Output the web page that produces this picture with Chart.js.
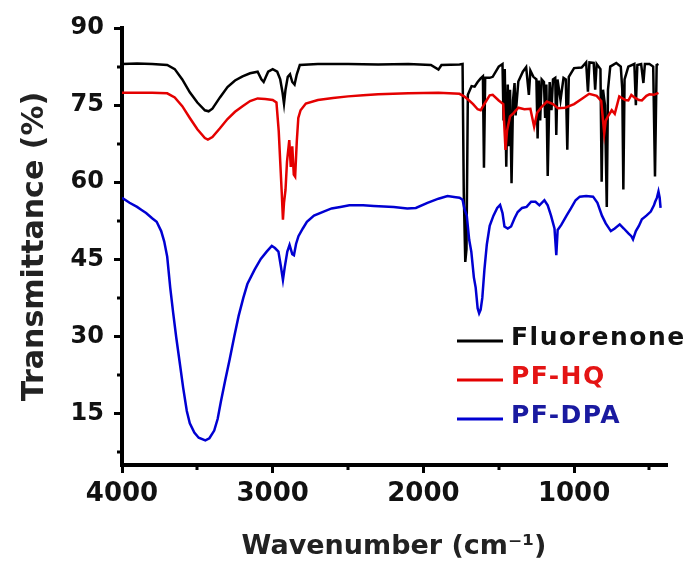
<!DOCTYPE html>
<html>
<head>
<meta charset="utf-8">
<script src="https://cdn.jsdelivr.net/npm/chart.js@4"></script>
<style>
  html, body { margin: 0; padding: 0; background: #fff; }
  canvas { display: block; }
</style>
</head>
<body>
<canvas id="ftir" width="685" height="564"></canvas>
<script>
// series labels + colours
const seriesNames = ['Fluorenone', 'PF-HQ', 'PF-DPA'];
const lineColors = ['#000000', '#e40000', '#0000d2'];
const legendTextColors = ['#111111', '#e41414', '#1a1aa0'];

// Fluorenone (black)
const fluorenoneWn = [4000, 3900, 3800, 3700, 3650, 3600, 3550, 3500, 3450, 3425, 3400, 3350, 3300, 3250, 3200, 3150, 3100, 3075, 3060, 3045, 3030, 3000, 2970, 2950, 2935, 2925, 2915, 2900, 2885, 2870, 2855, 2840, 2820, 2700, 2500, 2300, 2100, 1950, 1900, 1880, 1760, 1740, 1732, 1722, 1714, 1705, 1680, 1660, 1640, 1620, 1605, 1598, 1590, 1560, 1540, 1500, 1475, 1468, 1460, 1450, 1440, 1432, 1425, 1415, 1405, 1395, 1388, 1370, 1340, 1318, 1300, 1290, 1270, 1250, 1242, 1234, 1225, 1215, 1200, 1192, 1184, 1175, 1162, 1150, 1140, 1125, 1118, 1110, 1090, 1070, 1055, 1045, 1035, 1000, 950, 920, 908, 898, 870, 860, 850, 825, 817, 808, 795, 783, 775, 760, 720, 690, 680, 673, 665, 640, 600, 590, 580, 555, 540, 530, 500, 475, 463, 452, 440];
const fluorenoneT = [83.0, 83.1, 83.0, 82.8, 82.0, 80.0, 77.5, 75.5, 74.0, 73.8, 74.3, 76.5, 78.5, 79.8, 80.6, 81.2, 81.5, 80.0, 79.5, 80.5, 81.5, 82.0, 81.5, 80.0, 77.5, 75.3, 78.0, 80.5, 81.0, 79.5, 79.0, 81.0, 82.8, 83.0, 83.0, 82.9, 83.0, 82.8, 81.9, 82.8, 82.9, 83.0, 58.0, 44.5, 47.0, 77.0, 78.7, 78.6, 79.5, 80.2, 80.6, 62.8, 80.3, 80.3, 80.5, 82.5, 83.0, 72.0, 82.0, 63.0, 79.0, 67.0, 78.0, 59.8, 76.0, 79.3, 73.0, 79.6, 81.5, 82.4, 77.0, 81.7, 80.5, 80.0, 68.5, 79.8, 72.0, 80.0, 79.5, 72.5, 79.0, 61.2, 79.5, 74.0, 80.0, 80.3, 69.2, 80.0, 76.0, 80.3, 80.0, 66.3, 80.5, 82.2, 82.3, 83.3, 77.6, 83.3, 83.2, 78.0, 83.0, 82.0, 60.1, 78.0, 75.0, 55.2, 78.0, 82.5, 83.2, 82.5, 78.0, 58.6, 80.0, 82.5, 83.0, 75.0, 82.8, 83.0, 79.3, 83.0, 83.0, 82.5, 61.1, 82.8, 83.0];

// PF-HQ (red)
const pfhqWn = [4000, 3800, 3700, 3650, 3600, 3550, 3500, 3450, 3430, 3400, 3350, 3300, 3250, 3200, 3150, 3100, 3050, 3000, 2975, 2960, 2950, 2940, 2932, 2925, 2915, 2905, 2890, 2880, 2870, 2860, 2851, 2840, 2830, 2815, 2780, 2700, 2600, 2500, 2400, 2300, 2100, 1900, 1760, 1730, 1700, 1670, 1640, 1620, 1600, 1560, 1540, 1500, 1470, 1455, 1445, 1425, 1400, 1370, 1330, 1290, 1265, 1245, 1220, 1180, 1140, 1107, 1060, 1000, 950, 900, 850, 820, 800, 790, 775, 750, 730, 700, 660, 640, 620, 600, 570, 550, 520, 500, 470, 440];
const pfhqT = [77.4, 77.4, 77.3, 76.5, 74.8, 72.5, 70.3, 68.6, 68.3, 68.8, 70.5, 72.3, 73.7, 74.8, 75.8, 76.3, 76.2, 76.0, 75.5, 70.0, 64.0, 58.0, 52.7, 56.0, 58.5, 64.0, 68.2, 63.0, 67.0, 61.5, 61.1, 68.0, 72.5, 74.0, 75.3, 76.0, 76.4, 76.7, 76.9, 77.1, 77.3, 77.4, 77.2, 76.7, 76.0, 75.2, 74.2, 74.0, 75.0, 76.9, 77.0, 75.9, 75.2, 66.3, 70.0, 72.8, 73.5, 74.5, 74.2, 74.3, 70.8, 73.5, 74.5, 75.7, 75.2, 74.4, 74.5, 75.2, 76.2, 77.2, 76.8, 75.8, 69.5, 72.0, 72.8, 74.0, 73.3, 76.7, 76.0, 75.9, 77.0, 76.5, 76.0, 75.9, 76.8, 77.1, 77.0, 77.4];

// PF-DPA (blue)
const pfdpaWn = [4000, 3950, 3900, 3870, 3840, 3800, 3770, 3740, 3720, 3700, 3680, 3660, 3640, 3615, 3594, 3570, 3550, 3520, 3491, 3447, 3420, 3388, 3365, 3344, 3315, 3285, 3255, 3226, 3195, 3168, 3120, 3079, 3040, 3006, 2985, 2962, 2945, 2932, 2920, 2903, 2888, 2870, 2859, 2845, 2829, 2800, 2773, 2726, 2662, 2609, 2551, 2491, 2400, 2329, 2197, 2107, 2050, 1973, 1900, 1840, 1785, 1760, 1740, 1729, 1712, 1696, 1682, 1665, 1653, 1640, 1630, 1620, 1609, 1595, 1579, 1560, 1535, 1510, 1491, 1475, 1462, 1440, 1418, 1395, 1374, 1345, 1315, 1285, 1256, 1230, 1197, 1175, 1153, 1130, 1118, 1109, 1085, 1050, 1021, 990, 962, 920, 874, 845, 815, 790, 756, 730, 697, 670, 638, 620, 609, 590, 570, 550, 520, 491, 470, 462, 450, 440, 432, 426];
const pfdpaT = [57.0, 56.0, 55.2, 54.6, 54.0, 53.0, 52.3, 50.5, 48.5, 45.5, 39.5, 34.5, 29.8, 24.5, 20.0, 15.5, 13.1, 11.3, 10.3, 9.8, 10.2, 11.7, 14.0, 17.3, 21.5, 25.6, 30.0, 34.0, 37.5, 40.2, 43.0, 45.1, 46.5, 47.6, 47.2, 46.5, 43.5, 41.0, 43.5, 46.5, 47.8, 46.0, 45.8, 48.0, 49.5, 51.0, 52.3, 53.5, 54.3, 54.9, 55.2, 55.5, 55.5, 55.4, 55.2, 54.9, 55.0, 56.0, 56.8, 57.3, 57.1, 57.0, 56.6, 55.0, 53.5, 48.8, 46.5, 41.5, 39.5, 35.5, 34.5, 35.2, 37.5, 43.0, 47.9, 51.5, 53.5, 55.0, 55.6, 54.0, 51.4, 51.0, 51.4, 53.0, 54.2, 55.0, 55.2, 56.2, 56.2, 55.5, 56.5, 55.5, 53.5, 51.0, 45.8, 50.7, 51.7, 53.5, 54.9, 56.5, 57.2, 57.3, 57.2, 56.0, 53.5, 52.0, 50.5, 51.0, 51.8, 51.0, 50.0, 49.5, 48.9, 50.5, 51.5, 52.8, 53.5, 54.3, 55.5, 56.2, 57.0, 58.2, 57.0, 55.0];

// axis ticks
const xTicks = [4000, 3000, 2000, 1000];
const xMinorTicks = [3500, 2500, 1500, 500];
const yTicks = [15, 30, 45, 60, 75, 90];
const yMinorTicks = [7.5, 22.5, 37.5, 52.5, 67.5, 82.5];

const toPoints = (wn, t) => wn.map((w, i) => ({ x: w, y: t[i] }));
const seriesData = [
  toPoints(fluorenoneWn, fluorenoneT),
  toPoints(pfhqWn, pfhqT),
  toPoints(pfdpaWn, pfdpaT)
];

const FONT = '"DejaVu Sans", "Liberation Sans", Arial, sans-serif';

// short ticks between the labelled ones
const minorTicks = {
  id: 'minorTicks',
  afterDraw(chart) {
    const { ctx, scales: { x, y } } = chart;
    ctx.save();
    ctx.strokeStyle = '#000';
    ctx.lineWidth = 3;
    ctx.beginPath();
    xMinorTicks.forEach(v => {
      const px = Math.round(x.getPixelForValue(v));
      ctx.moveTo(px, x.top);
      ctx.lineTo(px, x.top + 5);
    });
    yMinorTicks.forEach(v => {
      const py = Math.round(y.getPixelForValue(v));
      ctx.moveTo(y.right, py);
      ctx.lineTo(y.right - 5, py);
    });
    ctx.stroke();
    ctx.restore();
  }
};

// legend inside the plot, lower right
const insideLegend = {
  id: 'insideLegend',
  afterDraw(chart) {
    const ctx = chart.ctx;
    ctx.save();
    ctx.font = 'bold 25px ' + FONT;
    ctx.textBaseline = 'middle';
    ctx.letterSpacing = '1.5px';
    chart.data.datasets.forEach((ds, i) => {
      const yy = 341 + i * 39;
      ctx.strokeStyle = ds.borderColor;
      ctx.lineWidth = 3;
      ctx.beginPath();
      ctx.moveTo(457, yy);
      ctx.lineTo(503, yy);
      ctx.stroke();
      ctx.fillStyle = legendTextColors[i];
      ctx.fillText(ds.label, 511, yy - 3);
    });
    ctx.restore();
  }
};

new Chart(document.getElementById('ftir'), {
  type: 'line',
  data: {
    datasets: seriesNames.map((name, i) => ({
      label: name,
      data: seriesData[i],
      borderColor: lineColors[i],
      backgroundColor: lineColors[i],
      borderWidth: 2.5,
      pointRadius: 0,
      tension: 0,
      fill: false,
      order: 3 - i
    }))
  },
  options: {
    responsive: false,
    animation: false,
    events: [],
    layout: { padding: { top: 28, right: 19, left: 0, bottom: 0 } },
    plugins: { legend: { display: false }, tooltip: { enabled: false } },
    scales: {
      x: {
        type: 'linear',
        reverse: true,
        min: 390,
        max: 4000,
        afterBuildTicks: s => { s.ticks = xTicks.map(v => ({ value: v })); },
        afterFit: s => { s.height = 99; },
        ticks: {
          callback: v => String(v),
          color: '#111',
          font: { family: FONT, size: 26, weight: 'bold' },
          padding: 6,
          maxRotation: 0,
          autoSkip: false
        },
        grid: { drawOnChartArea: false, drawTicks: true, tickLength: 8, tickWidth: 3, tickColor: '#000', lineWidth: 3, color: '#000' },
        border: { display: true, color: '#000', width: 4 },
        title: {
          display: true,
          text: 'Wavenumber (cm⁻¹)',
          color: '#222',
          font: { family: FONT, size: 27, weight: 'bold' },
          padding: { top: 0, bottom: 1 }
        }
      },
      y: {
        min: 5,
        max: 90,
        afterBuildTicks: s => { s.ticks = yTicks.map(v => ({ value: v })); },
        afterFit: s => { s.width = 122; },
        ticks: {
          callback: v => String(v),
          color: '#111',
          font: { family: FONT, size: 24, weight: 'bold' },
          padding: 10,
          autoSkip: false
        },
        grid: { drawOnChartArea: false, drawTicks: true, tickLength: 8, tickWidth: 3, tickColor: '#000', lineWidth: 3, color: '#000' },
        border: { display: true, color: '#000', width: 4 },
        title: {
          display: true,
          text: 'Transmittance (%)',
          color: '#222',
          font: { family: FONT, size: 30, weight: 'bold' },
          padding: { top: 17, bottom: 0 }
        }
      }
    }
  },
  plugins: [minorTicks, insideLegend]
});
</script>
</body>
</html>
